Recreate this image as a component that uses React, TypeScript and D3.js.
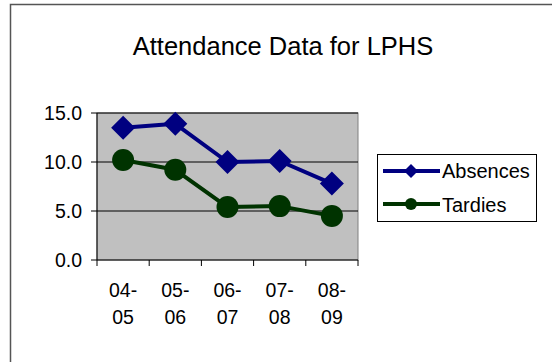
import React from "react";
import * as d3 from "d3";

const categories = ["04-05", "05-06", "06-07", "07-08", "08-09"];
const absences = [13.5, 13.9, 10.0, 10.1, 7.8];
const tardies = [10.2, 9.2, 5.4, 5.5, 4.5];
const yTicks = [0, 5, 10, 15];
const title = "Attendance Data for LPHS";
const seriesNames = ["Absences", "Tardies"];

const W = 552;
const H = 362;
const FONT = "'Liberation Sans', Arial, sans-serif";

export default function App() {
  const x = d3.scaleBand<string>().domain(categories).range([97, 358]).padding(0);
  const y = d3.scaleLinear().domain([0, 15]).range([260, 113]);
  const cx = (c: string) => (x(c) as number) + x.bandwidth() / 2;
  const line = d3
    .line<number>()
    .x((_, i) => cx(categories[i]))
    .y((d) => y(d));
  const diamond = (px: number, py: number, r: number) =>
    `M${px},${py - r}L${px + r},${py}L${px},${py + r}L${px - r},${py}Z`;

  const [x0, x1] = x.range();
  const boundaries = categories.map((c) => x(c) as number).concat([x1]);

  return (
    <svg
      width={W}
      height={H}
      style={{ position: "absolute", left: 0, top: 0, background: "#fff" }}
      fontFamily={FONT}
    >
      <rect x={0} y={0} width={W} height={H} fill="#fff" />
      <path d={`M10.5,${H + 5}V4.5H${W + 5}`} fill="none" stroke="#555" strokeWidth={1.5} />
      <text x={283} y={55} fontSize={25.5} textAnchor="middle" fill="#000">
        {title}
      </text>
      {/* plot area */}
      <rect x={x0} y={y(15)} width={x1 - x0} height={y(0) - y(15)} fill="#c0c0c0" stroke="#808080" strokeWidth={1} />
      {yTicks.filter((t) => t > 0).map((t) => (
        <line key={t} x1={x0} x2={x1} y1={y(t)} y2={y(t)} stroke="#000" strokeWidth={1} />
      ))}
      {/* axes */}
      <line x1={x0} x2={x0} y1={y(15)} y2={y(0)} stroke="#000" strokeWidth={1} />
      <line x1={x0} x2={x1} y1={y(0)} y2={y(0)} stroke="#000" strokeWidth={1} />
      {yTicks.map((t) => (
        <g key={t}>
          <line x1={x0 - 6} x2={x0} y1={y(t)} y2={y(t)} stroke="#000" />
          <text x={82} y={y(t) + 7} fontSize={19.5} textAnchor="end" fill="#000">
            {d3.format(".1f")(t)}
          </text>
        </g>
      ))}
      {boundaries.map((b, i) => (
        <line key={i} x1={b} x2={b} y1={y(0)} y2={y(0) + 6} stroke="#000" />
      ))}
      {categories.map((c) => {
        const [a, b] = c.split("-");
        return (
          <text key={c} x={cx(c)} fontSize={19.5} textAnchor="middle" fill="#000">
            <tspan x={cx(c)} y={297}>{a + "-"}</tspan>
            <tspan x={cx(c)} y={324}>{b}</tspan>
          </text>
        );
      })}
      {/* series */}
      <path d={line(absences) || ""} fill="none" stroke="#000080" strokeWidth={4} strokeLinejoin="round" />
      {absences.map((v, i) => (
        <path key={i} d={diamond(cx(categories[i]), y(v), 12)} fill="#000080" />
      ))}
      <path d={line(tardies) || ""} fill="none" stroke="#003300" strokeWidth={4} strokeLinejoin="round" />
      {tardies.map((v, i) => (
        <circle key={i} cx={cx(categories[i])} cy={y(v)} r={11} fill="#003300" />
      ))}
      {/* legend */}
      <rect x={377.5} y={154.5} width={159} height={67} fill="#fff" stroke="#000" strokeWidth={1} />
      <line x1={383} x2={440} y1={171} y2={171} stroke="#000080" strokeWidth={4} />
      <path d={diamond(411, 171, 7)} fill="#000080" />
      <text x={442} y={178} fontSize={20} fill="#000">{seriesNames[0]}</text>
      <line x1={383} x2={440} y1={204} y2={204} stroke="#003300" strokeWidth={4} />
      <circle cx={411} cy={204} r={6} fill="#003300" />
      <text x={442} y={212} fontSize={20} fill="#000">{seriesNames[1]}</text>
    </svg>
  );
}
